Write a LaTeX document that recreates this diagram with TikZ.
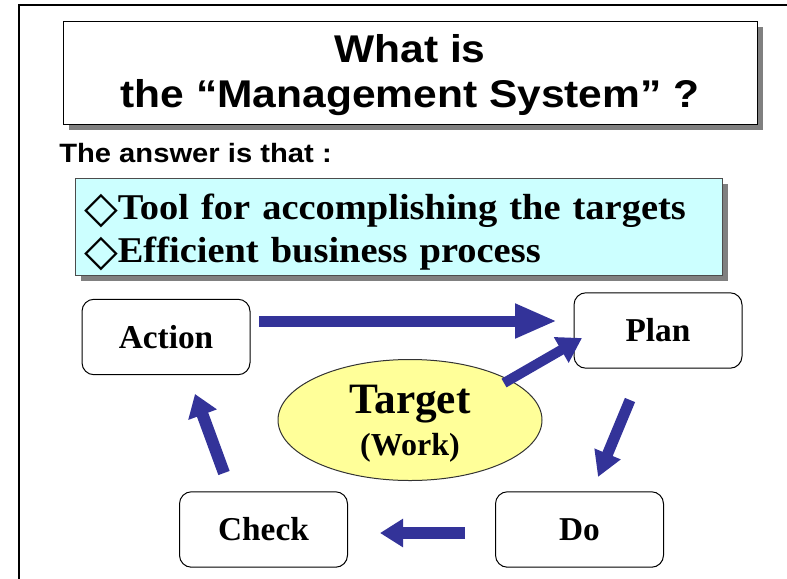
\documentclass[tikz,border=0pt]{standalone}
\usepackage{fontspec}
\setmainfont{Liberation Serif}
\newfontfamily\headfont[FakeStretch=1.1]{Liberation Sans}
\newfontfamily\leadfont[FakeStretch=1.1]{Liberation Sans}
\newfontfamily\listfont[FakeStretch=1.06]{Liberation Serif}
\newfontfamily\symfont{DejaVu Sans}
\usetikzlibrary{shapes.geometric,arrows.meta,shadows}

\definecolor{flowblue}{HTML}{333399}
\definecolor{notecyan}{HTML}{CCFFFF}
\definecolor{targetyellow}{HTML}{FFFF99}

\newcommand\notemark{\raisebox{-2.5pt}{\symfont\fontsize{33}{33}\selectfont ◇}}

\tikzset{
  stage/.style={draw, rounded corners=9pt, line width=0.75pt,
    minimum width=126pt, minimum height=56.6pt,
    font=\bfseries\fontsize{25}{30}\selectfont},
  boxshadow/.style={drop shadow={shadow xshift=4.5pt, shadow yshift=-4.5pt,
    fill=black!50, opacity=1}},
  flow/.style={color=flowblue, line width=8.25pt}
}

\begin{document}
\begin{tikzpicture}[x=0.75pt,y=-0.75pt]
   \useasboundingbox (0,0) rectangle (787,578);
   \draw[line width=1.6pt] (19,600) |- (800,5);

   \node[draw, line width=0.75pt, fill=white, boxshadow, align=center,
         minimum width=520.5pt, minimum height=77.25pt, text depth=3pt,
         font={\headfont\bfseries\fontsize{29}{33.75}\selectfont}]
         (title) at (410,72.5) {What is\\the “Management System” ?};
   \node[anchor=base west, inner sep=0pt,
         font={\leadfont\bfseries\fontsize{19.9}{24}\selectfont}]
         (answer) at (59,162) {The answer is that :};
   \node[draw=black!70, line width=0.75pt, fill=notecyan, boxshadow,
         minimum width=485.25pt, minimum height=72.75pt,
         inner xsep=6.75pt, text width=471.75pt, text depth=30pt, align=left,
         font={\listfont\bfseries\fontsize{27.2}{32.25}\selectfont}]
         (notes) at (398.5,226.5)
         {\notemark Tool for accomplishing the targets\\
          \notemark Efficient business process};

   \node[stage] (action) at (166,337)     {Action};
   \node[stage] (plan)   at (658,330.5)   {Plan};
   \node[stage] (check)  at (263.5,529.5) {Check};
   \node[stage] (do)     at (579.5,529.5) {Do};
   \node[ellipse, draw=black!80, line width=0.75pt, fill=targetyellow,
         minimum width=198pt, minimum height=90.75pt, inner sep=0pt,
         align=center, text depth=-2.5pt,
         font=\bfseries\fontsize{24}{31.5}\selectfont]
         (target) at (410,420)
         {{\fontsize{32.5}{31.5}\selectfont Target}\\(Work)};

   % arrow ends
   \coordinate (ap-tail) at (259,321);
   \coordinate (ap-head) at (557,321);
   \coordinate (tp-tail) at (504,383);
   \coordinate (tp-head) at (582,338);
   \coordinate (pd-tail) at (630,400);
   \coordinate (pd-head) at (598,477);
   \coordinate (dc-tail) at (465,533);
   \coordinate (dc-head) at (380,533);
   \coordinate (ca-tail) at (224,473);
   \coordinate (ca-head) at (195,394);

   \path[flow]
    (ap-tail) edge [-{Triangle[length=31.5pt,width=24pt]}] (ap-head)
    (tp-tail) edge [line width=7.5pt, -{Triangle[length=18pt,width=21pt]}] (tp-head)
    (pd-tail) edge [-{Triangle[length=18.75pt,width=20pt]}] (pd-head)
    (dc-tail) edge [line width=9pt, -{Triangle[length=17.25pt,width=20.25pt]}] (dc-head)
    (ca-tail) edge [line width=9pt, -{Triangle[length=16.5pt,width=21.75pt]}] (ca-head);
\end{tikzpicture}
\end{document}
